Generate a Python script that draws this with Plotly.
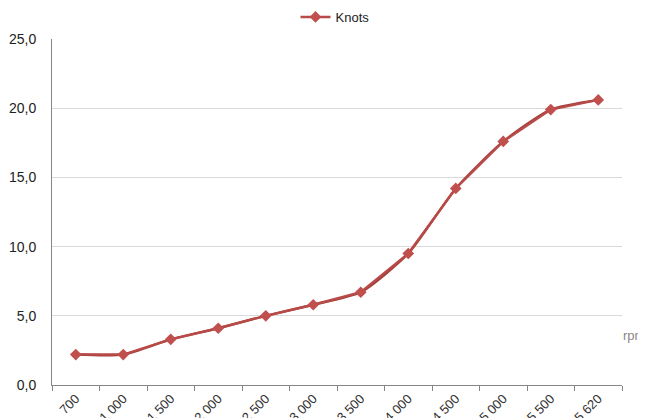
import plotly.graph_objects as go

rpm_labels = ["700", "1 000", "1 500", "2 000", "2 500", "3 000", "3 500",
              "4 000", "4 500", "5 000", "5 500", "5 620"]
knots = [2.2, 2.2, 3.3, 4.1, 5.0, 5.8, 6.7, 9.5, 14.2, 17.6, 19.9, 20.6]
y_ticks = [0, 5, 10, 15, 20, 25]
y_tick_text = ["0,0", "5,0", "10,0", "15,0", "20,0", "25,0"]

OFF = 8  # page body margin
W, H = 646 - OFF, 418 - OFF
ML, MT = 52 - OFF, 39 - OFF
MR, MB = W - (622 - OFF), H - (385 - OFF)
pw, ph = W - ML - MR, H - MT - MB

def px_x(p):  # page x -> paper
    return (p - OFF - ML) / pw

def px_y(p):  # page y -> paper
    return (H - MB - (p - OFF)) / ph

fig = go.Figure()
# smoothed overlay line (as in the source chart)
fig.add_trace(go.Scatter(
    x=rpm_labels, y=knots, mode="lines",
    line=dict(color="#a43f3c", width=2.4, shape="spline", smoothing=0.6),
    showlegend=False, hoverinfo="skip"))
fig.add_trace(go.Scatter(
    x=rpm_labels, y=knots, mode="lines+markers", name="Knots",
    line=dict(color="#b84a47", width=2.4),
    marker=dict(symbol="diamond", size=9, color="#c0504d")))

fig.update_layout(
    width=W, height=H,
    margin=dict(l=ML, r=MR, t=MT, b=MB, autoexpand=False),
    paper_bgcolor="white", plot_bgcolor="white",
    font=dict(family="Liberation Sans, Arial, sans-serif", color="#222222"),
    showlegend=True,
    legend=dict(orientation="h", x=px_x(335), xanchor="center",
                y=px_y(17), yanchor="middle",
                font=dict(size=13, color="#222222"),
                bgcolor="rgba(0,0,0,0)", itemwidth=30),
    xaxis=dict(type="category", tickangle=-45, tickfont=dict(size=13, color="#333333"),
               showline=True, linecolor="#868686", linewidth=1,
               ticks="outside", tickson="boundaries", ticklen=5, tickcolor="#868686",
               showgrid=False, range=[-0.5, len(rpm_labels) - 0.5], automargin=False),
    yaxis=dict(range=[0, 25], tickvals=y_ticks, ticktext=y_tick_text,
               tickfont=dict(size=14, color="#222222"),
               showline=True, linecolor="#868686", linewidth=1,
               showgrid=True, gridcolor="#d9d9d9", gridwidth=1,
               ticks="", ticklabelstandoff=12, zeroline=False, automargin=False),
    shapes=[dict(type="rect", xref="paper", yref="paper",
                 x0=px_x(287), x1=px_x(388),
                 y0=0.985, y1=1.02, fillcolor="white", line=dict(width=0),
                 layer="above")],
    annotations=[dict(text="rpm", xref="paper", yref="paper",
                      x=px_x(621), y=px_y(335),
                      xanchor="left", yanchor="middle", showarrow=False,
                      font=dict(size=13, color="#888888"))],
)

fig.write_html("out.html")
